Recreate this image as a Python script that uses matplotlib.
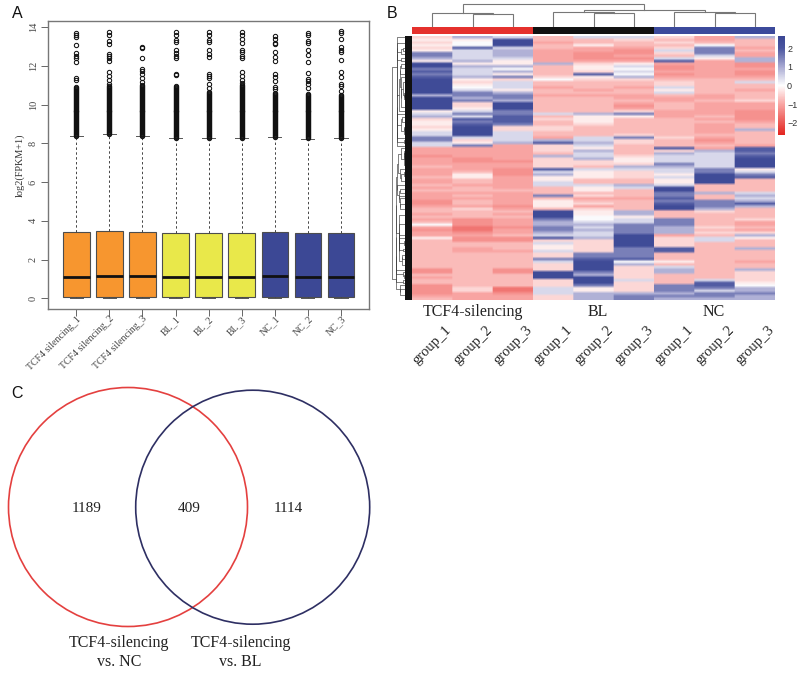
import numpy as np
import matplotlib
matplotlib.use('Agg')
import matplotlib.pyplot as plt
from matplotlib.collections import LineCollection
from matplotlib.colors import LinearSegmentedColormap
from matplotlib.patches import Circle, Rectangle

plt.rcParams['font.family'] = ['Liberation Serif', 'DejaVu Serif']

# panel A
sample_labels = ['TCF4 silencing_1', 'TCF4 silencing_2', 'TCF4 silencing_3',
                 'BL_1', 'BL_2', 'BL_3', 'NC_1', 'NC_2', 'NC_3']
box_colors = ['#f7962f'] * 3 + ['#e9e84a'] * 3 + ['#3c4895'] * 3
q1 = [0.08, 0.08, 0.08, 0.09, 0.08, 0.08, 0.09, 0.08, 0.08]
medians = [1.12, 1.13, 1.15, 1.10, 1.11, 1.12, 1.15, 1.10, 1.08]
q3 = [3.42, 3.45, 3.42, 3.39, 3.37, 3.38, 3.41, 3.36, 3.36]
whisk_hi = [8.40, 8.47, 8.40, 8.27, 8.27, 8.27, 8.35, 8.24, 8.26]
whisk_lo = [0.0] * 9
dense_outliers = [8.3, 8.35, 8.4, 8.45, 8.5, 8.55, 8.6, 8.65, 8.7, 8.75, 8.8, 8.85, 8.9, 8.95, 9.0, 9.05,
                  9.1, 9.15, 9.2, 9.25, 9.3, 9.35, 9.4, 9.45, 9.5, 9.55, 9.6, 9.65, 9.7, 9.75, 9.8, 9.85,
                  9.9, 9.95, 10.0, 10.05, 10.1, 10.15, 10.2, 10.25, 10.3, 10.35, 10.4, 10.45, 10.5, 10.55,
                  10.6, 10.65, 10.7, 10.75, 10.8, 10.85, 10.9, 10.95, 11.0]
dense_top = [10.9, 10.95, 11.05, 10.95, 10.65, 11.0, 10.6, 10.55, 10.5]
sparse_outliers = [
    [13.7, 13.6, 13.5, 13.08, 12.65, 12.5, 12.4, 12.2, 11.4, 11.3],
    [13.75, 13.6, 13.3, 13.15, 12.6, 12.5, 12.4, 12.25, 11.7, 11.5, 11.3, 11.05],
    [13.0, 12.95, 12.4, 11.85, 11.75, 11.6, 11.4, 11.15],
    [13.75, 13.6, 13.35, 13.25, 12.85, 12.65, 12.5, 12.4, 11.6, 11.55],
    [13.75, 13.6, 13.35, 13.25, 12.85, 12.6, 12.45, 11.6, 11.5, 11.4, 11.05, 10.85],
    [13.75, 13.6, 13.4, 13.2, 12.85, 12.7, 12.5, 12.4, 11.7, 11.5, 11.3, 11.1],
    [13.55, 13.4, 13.2, 13.15, 12.7, 12.45, 12.25, 11.6, 11.45, 11.25, 10.9, 10.8],
    [13.7, 13.6, 13.3, 13.2, 12.85, 12.55, 12.2, 11.65, 11.35, 11.2, 11.05, 10.85],
    [13.8, 13.7, 13.4, 13.0, 12.85, 12.7, 12.3, 11.7, 11.45, 11.05, 10.95, 10.7],
]

# panel B, one letter per cell
heat_levels = dict(zip('abcdefghijkl', [-1.6, -1.25, -1.0, -0.75, -0.45, -0.2, 0.05, 0.45, 0.9, 1.5, 1.9, 2.4]))
heat_rows = [
    'eihdhheci', 'fflddedcd', 'eglcddedd', 'fgldfddgd', 'ekhdccejc',
    'fhiccbhjd', 'jhicbbejc', 'jhicbcdhc', 'ihhcbbhfi', 'fifccckci',
    'lffiefccb', 'liidfhbcb', 'jhgdfgbcc', 'khidehccb', 'jhfdkgbcb',
    'kijeficcc', 'lfegeeddd', 'lehdddedh', 'lfhdddedd', 'lghcdchdd',
    'lhfdcdfdc', 'ljidddhdd', 'ijjcccdcd', 'lijddcccd', 'ljidddcde',
    'lelddcdcc', 'lelddbdcc', 'lflddcdcc', 'fhjddeccb', 'hjjhijccb',
    'ihkdffcdb', 'ekkefddcb', 'fjkdfdddc', 'fkjdeddcd', 'eleedddcd',
    'fleedddci', 'hlhddddcd', 'hlhddeddd', 'jhhchjecd', 'jehihedbd',
    'hfikiedcd', 'hjcehdddc', 'cccefdkck', 'ccceideik', 'cccdhdihj',
    'bccihehhk', 'cbceifhhl', 'cbbeefhhl', 'ccceeejhl', 'dccediihl',
    'ccbkhhhjf', 'cdbhfehjh', 'cfbifeflj', 'dfcffehlk', 'cdcfddfld',
    'cdchddfld', 'dcchhihdd', 'cdcdfhldd', 'ddddfdldd', 'cccdddjih',
    'cdcjedjdi', 'cccdcckdh', 'bdcfddjji', 'bdcfedkjk', 'ccbfcdlji',
    'decdedlid', 'dddlfided', 'cdclfiddd', 'dddlgfddd', 'cbcjghjde',
    'dbcihhjdc', 'gbciijjdc', 'cabjhjied', 'bacjijidc', 'cbcihjiee',
    'ccdhhlcdi', 'fbbkilehf', 'dbbeelehd', 'dddheledd', 'dddfeledd',
    'dcdfejkdi', 'dcchejkdd', 'dddejjddd', 'dddejjddd', 'dddjkkddd',
    'dddhlgfdc', 'dddeliddd', 'dddelehdd', 'bdbeleidi', 'bdbljeide',
    'dddliedde', 'cddlledde', 'dddelhdhe', 'dddeledkf', 'bddejejkg',
    'beahfejji', 'beahfejhi', 'bcbhiiijj', 'ccceijjji', 'dcceijiii',
]
column_groups = ['TCF4-silencing', 'BL', 'NC']
column_labels = ['group_1', 'group_2', 'group_3'] * 3
group_colors = ['#e5312d', '#111111', '#3c4a9b']
cbar_ticks = [-2, -1, 0, 1, 2]
# merges of the column tree: child a, child b, height. 0-8 are columns, 9+ are earlier merges
col_merges = [(1, 2, 13.0), (0, 9, 14.3), (4, 5, 14.0), (3, 11, 15.0), (7, 8, 14.3), (6, 13, 15.0),
              (12, 14, 17.7), (10, 15, 23.0)]

# panel C
venn_only_a = 1189
venn_both = 409
venn_only_b = 1114
venn_names = ['TCF4-silencing\nvs. NC', 'TCF4-silencing\nvs. BL']

W, H = 800, 673
fig = plt.figure(figsize=(W / 100, H / 100), dpi=100)


def px_axes(left, top, right, bottom):
    return fig.add_axes([left / W, 1 - bottom / H, (right - left) / W, (bottom - top) / H])


# overlay in pixel coords for free text and the venn
over = px_axes(0, 0, W, H)
over.set_xlim(0, W)
over.set_ylim(H, 0)
over.axis('off')
over.set_zorder(5)
over.patch.set_alpha(0)

# --- A: boxplot
ax = px_axes(47.7, 20.7, 369, 309.3)
stats = []
for i in range(9):
    fl = [v for v in dense_outliers if whisk_hi[i] <= v <= dense_top[i]] + sparse_outliers[i]
    stats.append(dict(med=medians[i], q1=q1[i], q3=q3[i], whislo=whisk_lo[i], whishi=whisk_hi[i], fliers=fl))
bp = ax.bxp(stats, positions=range(1, 10), widths=0.8, patch_artist=True,
            boxprops=dict(edgecolor='#4d4d4d', linewidth=0.8),
            medianprops=dict(color='#111111', linewidth=2.0, solid_capstyle='butt'),
            whiskerprops=dict(color='#444444', linewidth=0.7, linestyle=(0, (2.5, 2.5))),
            capprops=dict(color='#555555', linewidth=0.7), capwidths=0.4,
            flierprops=dict(marker='o', markersize=3.1, markerfacecolor='none',
                            markeredgecolor='#111111', markeredgewidth=0.75))
for patch, c in zip(bp['boxes'], box_colors):
    patch.set_facecolor(c)
ax.set_xlim(0.136, 9.85)
ax.set_ylim(-0.57, 14.34)
ax.set_yticks(range(0, 15, 2))
ax.set_xticks(range(1, 10))
ax.set_xticklabels([])
ax.tick_params(axis='both', length=5, width=0.7, color='#666666', labelcolor='#444444', labelsize=7.4)
ax.tick_params(axis='y', labelrotation=90, pad=2)
for lab in ax.get_yticklabels():
    lab.set_va('center')
for s in ax.spines.values():
    s.set_color('#777777')
    s.set_linewidth(1.0)
ax.set_ylabel('log2(FPKM+1)', fontsize=7.4, color='#333333', labelpad=3)
for i, name in enumerate(sample_labels):
    ax.annotate(name, (i + 1, -0.57), xytext=(2.3, -6), textcoords='offset points', rotation=45,
                rotation_mode='anchor', ha='right', va='center', fontsize=7.1, color='#444444',
                annotation_clip=False)

# --- B: heatmap
heat = np.array([[heat_levels[ch] for ch in row] for row in heat_rows])
cmap = LinearSegmentedColormap.from_list('rwb', [(0, '#e3241f'), (0.31, '#f9a5a3'), (0.5, '#ffffff'),
                                                 (0.69, '#a8a9d2'), (0.88, '#4a559f'), (1, '#3a4694')])
hx = px_axes(412.3, 36, 775.3, 300)
# repeat columns so the bilinear smoothing stays inside the rows
im = hx.imshow(np.repeat(heat, 40, axis=1), aspect='auto', cmap=cmap, vmin=-2.64, vmax=2.64,
               interpolation='bilinear')
hx.axis('off')

# group colour strip
sx = px_axes(412.3, 27.3, 775.3, 33.5)
for i, c in enumerate(group_colors):
    sx.barh(0, 3, left=3 * i, height=1, color=c)
sx.set_xlim(0, 9)
sx.set_ylim(-0.5, 0.5)
sx.axis('off')

# column tree
tx = px_axes(412.3, 0, 775.3, 27.3)
tx.set_xlim(0, 9)
tx.set_ylim(0, 27.3)
tx.axis('off')
nodes = [(i + 0.5, 0.0) for i in range(9)]
for a, b, h in col_merges:
    xa, ha = nodes[a]
    xb, hb = nodes[b]
    tx.plot([xa, xa, xb, xb], [ha, h, h, hb], color='#777777', lw=0.8, solid_joinstyle='miter')
    nodes.append(((xa + xb) / 2, h))

# row tree: merge neighbouring rows by how alike they are, which keeps the row order
dx = px_axes(390, 36, 412.3, 300)
clusters = [dict(y=i + 0.5, h=0.0, rows=[i]) for i in range(len(heat))]
segs = []
hmax = 0.0
merged = []
while len(clusters) > 1:
    d = [np.linalg.norm(heat[clusters[i]['rows']].mean(axis=0) - heat[clusters[i + 1]['rows']].mean(axis=0))
         for i in range(len(clusters) - 1)]
    k = int(np.argmin(d))
    a, b = clusters[k], clusters[k + 1]
    h = max(d[k], a['h'], b['h'])
    merged.append((a['y'], a['h'], b['y'], b['h'], h))
    clusters[k:k + 2] = [dict(y=(a['y'] + b['y']) / 2, h=h, rows=a['rows'] + b['rows'])]
    hmax = max(hmax, h)
for ya, ha, yb, hb, h in merged:
    segs.append([(ha / hmax, ya), (h / hmax, ya), (h / hmax, yb), (hb / hmax, yb)])
dx.add_collection(LineCollection(segs, colors='#3a3a3a', linewidths=0.45))
dx.set_xlim(1.08, 0)
dx.set_ylim(len(heat), 0)
dx.axis('off')
dx.add_patch(Rectangle((0, 0), 0.34, len(heat), color='#111111', lw=0, zorder=3))

# colour bar
cax = px_axes(778, 36, 785, 135)
cb = fig.colorbar(im, cax=cax, ticks=cbar_ticks)
cb.outline.set_visible(False)
cax.tick_params(length=0, pad=1.5, labelsize=6.5, labelcolor='#333333')
for lab in cax.get_yticklabels():
    lab.set_family('Liberation Sans')

centers = [432.5, 472.8, 513.1, 553.5, 593.8, 634.1, 674.5, 714.8, 755.2]
for name, x in zip(column_groups, [473, 597.7, 713.7]):
    over.text(x, 312, name, fontsize=11.5, ha='center', va='center', color='#222222')
for name, x in zip(column_labels, centers):
    over.text(x + 17, 328, name, fontsize=10.5, rotation=45, rotation_mode='anchor',
              ha='right', va='center', color='#222222')

# --- C: venn
over.add_patch(Circle((128, 507), 119.5, fill=False, ec='#e4403f', lw=1.2))
over.add_patch(Circle((252.7, 507.2), 117, fill=False, ec='#2e2f63', lw=1.2))
for v, x in zip([venn_only_a, venn_both, venn_only_b], [86.7, 188.7, 288]):
    over.text(x, 509, str(v), fontsize=11, ha='center', va='center', color='#222222')
for name, x in zip(venn_names, [118.7, 240.7]):
    over.text(x, 652.5, name, fontsize=11.5, ha='center', va='center', color='#222222', linespacing=1.3)

for letter, x, y in [('A', 17, 14), ('B', 392, 14), ('C', 17, 393)]:
    over.text(x, y, letter, fontsize=11.5, ha='center', va='center', family='Liberation Sans', color='#111111')

fig.savefig('out.png', dpi=100)
